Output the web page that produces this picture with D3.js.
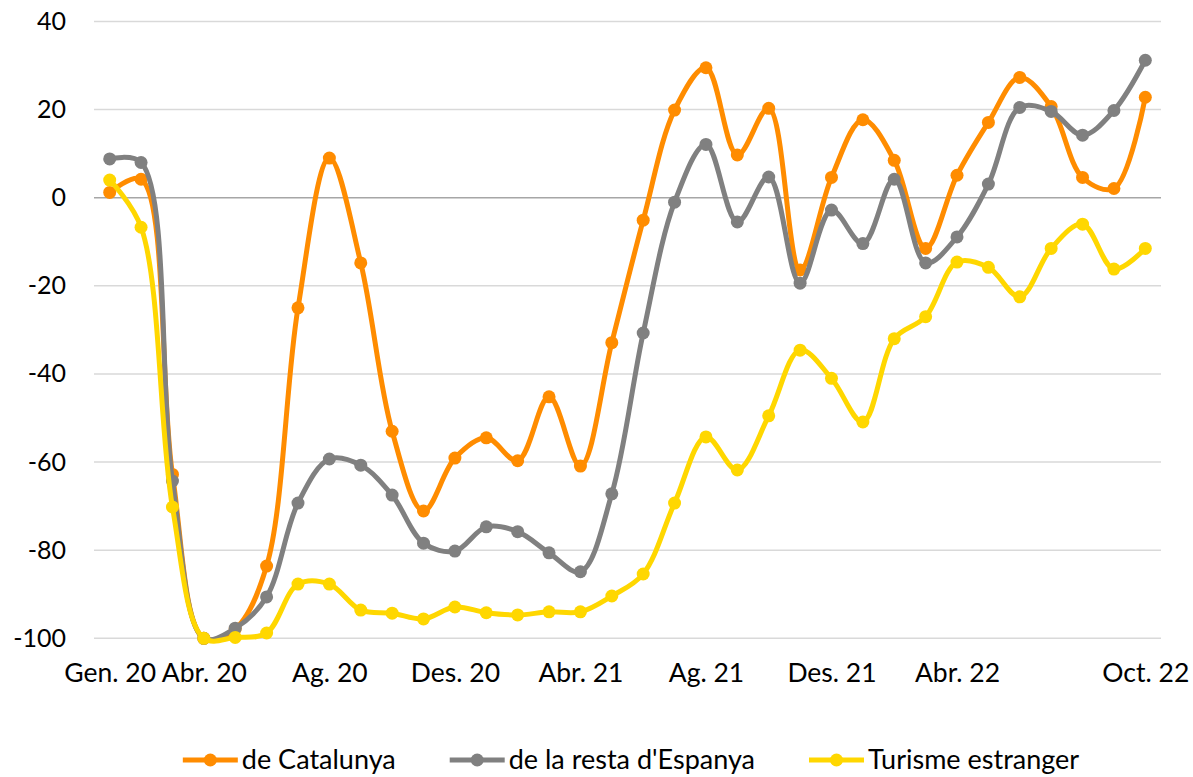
<!DOCTYPE html>
<html>
<head>
<meta charset="utf-8">
<script src="https://cdn.jsdelivr.net/npm/d3@7"></script>
<style>
    body { margin: 0; background: #ffffff; }
    svg { display: block; }
</style>
</head>
<body>
<div id="chart"></div>
<script>
    // months Gen. 20 .. Oct. 22
    const months = [
        'Gen. 20', 'Febr. 20', 'Març 20', 'Abr. 20', 'Maig 20', 'Juny 20', 'Jul. 20', 'Ag. 20', 'Set. 20', 'Oct. 20', 'Nov. 20', 'Des. 20',
        'Gen. 21', 'Febr. 21', 'Març 21', 'Abr. 21', 'Maig 21', 'Juny 21', 'Jul. 21', 'Ag. 21', 'Set. 21', 'Oct. 21', 'Nov. 21', 'Des. 21',
        'Gen. 22', 'Febr. 22', 'Març 22', 'Abr. 22', 'Maig 22', 'Juny 22', 'Jul. 22', 'Ag. 22', 'Set. 22', 'Oct. 22'
    ];
    const shown_ticks = ['Gen. 20', 'Abr. 20', 'Ag. 20', 'Des. 20', 'Abr. 21', 'Ag. 21', 'Des. 21', 'Abr. 22', 'Oct. 22'];
    const y_ticks = [40, 20, 0, -20, -40, -60, -80, -100];

    const catalunya = [1.2, 4.2, -62.8, -100, -97.9, -83.6, -25, 9, -14.8, -53, -71.1, -59.1, -54.5, -59.7, -45.2, -60.9, -32.9,
        -5.1, 19.9, 29.5, 9.7, 20.3, -16.4, 4.6, 17.7, 8.5, -11.5, 5.1, 17.1, 27.3, 20.7, 4.6, 2.1, 22.8];
    const resta_espanya = [8.8, 8.0, -64.3, -100, -97.7, -90.6, -69.3, -59.3, -60.7, -67.5, -78.4, -80.2, -74.7, -75.8, -80.6, -84.9, -67.2,
        -30.7, -1.0, 12.1, -5.5, 4.7, -19.4, -2.8, -10.4, 4.2, -14.8, -8.9, 3.1, 20.5, 19.6, 14.2, 19.8, 31.2];
    const estranger = [4, -6.7, -70.2, -100, -99.8, -98.8, -87.7, -87.7, -93.6, -94.3, -95.6, -92.9, -94.2, -94.7, -94, -94, -90.4,
        -85.4, -69.3, -54.3, -61.8, -49.5, -34.6, -41, -50.9, -32, -27, -14.6, -15.8, -22.5, -11.5, -6, -16.2, -11.5];

    const series_names = ['de Catalunya', "de la resta d'Espanya", 'Turisme estranger'];
    const series_colors = ['#ff8c00', '#808080', '#ffd700'];

    (function() {
        let width = 1193,
            height = 777,
            plot = {left: 94, right: 1161, top: 21.5, bottom: 638.3},
            font = 'Lato, "Open Sans", sans-serif';

        let series = [catalunya, resta_espanya, estranger].map((values, k) => ({
            name: series_names[k],
            color: series_colors[k],
            values: values.map((v, i) => ({month: months[i], value: v}))
        }));

        let svg = d3.select('#chart').append('svg')
            .attr('width', width)
            .attr('height', height)
            .attr('font-family', font);

        let x = d3.scalePoint()
            .domain(months)
            .range([plot.left, plot.right])
            .padding(0.5);

        let y = d3.scaleLinear()
            .domain([-100, 40])
            .range([plot.bottom, plot.top]);

        // gridlines
        svg.append('g')
            .selectAll('line')
            .data(y_ticks)
            .enter().append('line')
            .attr('x1', plot.left)
            .attr('x2', plot.right)
            .attr('y1', (d) => y(d))
            .attr('y2', (d) => y(d))
            .attr('stroke', (d) => d === 0 ? '#a6a6a6' : '#d9d9d9')
            .attr('stroke-width', 1.5);

        // y axis labels
        let y_axis = svg.append('g')
            .attr('transform', 'translate(' + (plot.left - 28) + ',0)')
            .call(d3.axisLeft(y).tickValues(y_ticks).tickSize(0).tickPadding(0).tickFormat((d) => String(d)));
        y_axis.select('.domain').remove();
        y_axis.selectAll('text')
            .attr('font-family', font)
            .attr('font-size', 25)
            .attr('fill', '#000000');

        // x axis labels
        let x_axis = svg.append('g')
            .attr('transform', 'translate(0,' + plot.bottom + ')')
            .call(d3.axisBottom(x).tickValues(shown_ticks).tickSize(0).tickPadding(25));
        x_axis.select('.domain').remove();
        x_axis.selectAll('text')
            .attr('font-family', font)
            .attr('font-size', 26.5)
            .attr('fill', '#000000');

        let line = d3.line()
            .x((d) => x(d.month))
            .y((d) => y(d.value))
            .curve(d3.curveCatmullRom.alpha(0.5));

        series.forEach(function(s) {
            let g = svg.append('g');
            g.append('path').datum(s.values)
                .attr('fill', 'none')
                .attr('stroke', s.color)
                .attr('stroke-width', 5)
                .attr('stroke-linejoin', 'round')
                .attr('d', line);
            g.selectAll('circle')
                .data(s.values)
                .enter().append('circle')
                .attr('cx', (d) => x(d.month))
                .attr('cy', (d) => y(d.value))
                .attr('r', 6.5)
                .attr('fill', s.color);
        });

        // legend, centred under the plot
        let legend = svg.append('g')
            .attr('font-size', 27);
        let cursor = 0,
            legend_y = 760,
            swatch = 55,
            gap = 54;
        series.forEach(function(s, k) {
            let item = legend.append('g').attr('transform', 'translate(' + cursor + ',0)');
            item.append('line')
                .attr('x1', 0)
                .attr('x2', swatch)
                .attr('y1', legend_y)
                .attr('y2', legend_y)
                .attr('stroke', s.color)
                .attr('stroke-width', 5);
            item.append('circle')
                .attr('cx', swatch / 2)
                .attr('cy', legend_y)
                .attr('r', 6.5)
                .attr('fill', s.color);
            let text = item.append('text')
                .attr('x', swatch + 4)
                .attr('y', legend_y)
                .attr('dy', '0.35em')
                .attr('fill', '#000000')
                .text(s.name);
            cursor += swatch + 4 + text.node().getComputedTextLength() + gap;
        });
        let total = cursor - gap;
        legend.attr('transform', 'translate(' + (631 - total / 2) + ',0)');
    }());
</script>
</body>
</html>
